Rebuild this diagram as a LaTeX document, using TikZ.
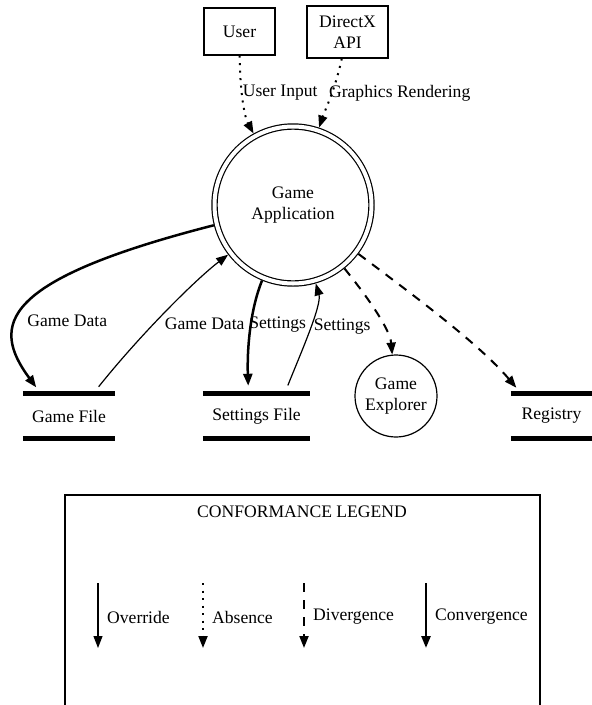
\documentclass[tikz,border=0pt]{standalone}
\usepackage{fontspec}
\setmainfont{Liberation Serif}
\usetikzlibrary{arrows.meta}

\begin{document}
\begin{tikzpicture}[x=1pt, y=-1pt, >={Triangle[length=12pt,width=9pt]},
  font=\fontsize{17.6}{21}\selectfont,
  extbox/.style={rectangle, draw, line width=1.2pt, align=center},
  procnode/.style={circle, draw, line width=1.2pt, align=center},
  dstore/.style={rectangle, minimum height=44pt, inner sep=0pt},
  storebar/.style={line width=5pt},
  override/.style={->, line width=1.2pt},
  absence/.style={->, line width=2pt, dash pattern=on 2pt off 5.5pt},
  divergence/.style={->, line width=2pt, dash pattern=on 9pt off 8pt},
  convergence/.style={->, line width=2.5pt},
  flowlabel/.style={inner sep=0pt, anchor=west}]
\useasboundingbox (0,0) rectangle (592,705);

% External entities
\node[extbox, minimum width=71pt, minimum height=47pt] (user) at (239.5,31.5) {User};
\node[extbox, minimum width=81pt, minimum height=52pt] (dx) at (347.5,32) {DirectX\\API};

% Processes
\node[procnode, double, double distance=4pt, minimum size=157pt, outer sep=3.2pt] (app) at (293,205) {Game\\Application};
\node[procnode, minimum size=82pt] (gexp) at (396,396) {Game\\Explorer};

% Data stores
\node[dstore, minimum width=92pt] (gfile) at (69,416) {Game File};
\node[dstore, minimum width=107pt] (sfile) at (256.5,416) {Settings File};
\node[dstore, minimum width=81pt] (reg) at (551.5,416) {Registry};
\foreach \s in {gfile,sfile,reg}
  \draw[storebar] (\s.north west) -- (\s.north east) (\s.south west) -- (\s.south east);

% Inputs to the application
\draw[absence] (user) .. controls (240,95) and (245,118) .. (app)
  node[flowlabel, pos=0.36] {User Input};
\draw[absence] (dx) .. controls (335,90) and (325,110) .. (app)
  node[flowlabel, pos=0.42, xshift=-4pt] {Graphics Rendering};

% Flows to and from the files
\draw[convergence, shorten >=8pt] (app) .. controls (0,280) and (-10,325) .. ([xshift=-28pt]gfile.north)
  node[flowlabel, pos=0.6, xshift=8pt] {Game Data};
\draw[override, shorten <=9pt] ([xshift=24pt]gfile.north) .. controls (140,335) and (195,280) .. (app)
  node[flowlabel, pos=0.42, xshift=10pt] {Game Data};
\draw[convergence, shorten >=8pt] (app) .. controls (250,310) and (247,350) .. ([xshift=-8pt]sfile.north)
  node[flowlabel, pos=0.44, xshift=-3pt] {Settings};
\draw[override, shorten <=9pt] ([xshift=28pt]sfile.north) .. controls (300,355) and (322,305) .. (app)
  node[flowlabel, pos=0.55, xshift=3pt] {Settings};

% Missing flows
\draw[divergence] (app) .. controls (370,300) and (390,330) .. (gexp);
\draw[divergence, shorten >=8pt] (app) .. controls (420,300) and (480,345) .. ([xshift=-30pt]reg.north);

% Legend
\draw[line width=1.2pt] (65,705) -- (65,495) -- (540,495) -- (540,705);
\node (legtitle) at (302,512) {CONFORMANCE LEGEND};
\foreach \kind/\x/\txt in {override/98/Override, absence/203/Absence,
    divergence/304/Divergence, convergence/426/Convergence} {
  \coordinate (\kind-a) at (\x,583);
  \coordinate (\kind-b) at (\x,648);
  \draw[\kind] (\kind-a) -- (\kind-b);
  \node[flowlabel] (\kind-lbl) at (\x+9,617) {\txt};
}
\end{tikzpicture}
\end{document}
